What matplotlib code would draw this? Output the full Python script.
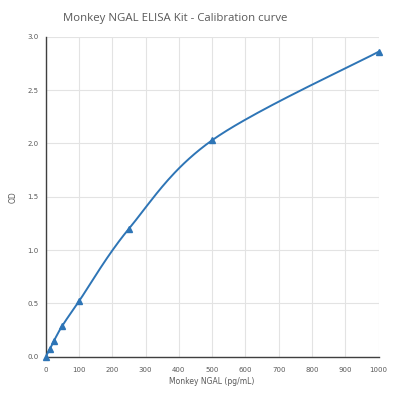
import numpy as np
import matplotlib
matplotlib.use("Agg")
import matplotlib.pyplot as plt

conc = [0, 12.5, 25, 50, 100, 250, 500, 1000]
od = [0.0, 0.07, 0.15, 0.29, 0.52, 1.20, 2.03, 2.86]
xticks = [0, 100, 200, 300, 400, 500, 600, 700, 800, 900, 1000]
yticks = [0.0, 0.5, 1.0, 1.5, 2.0, 2.5, 3.0]

def smooth(x, y, n=40):
    x = np.asarray(x, float); y = np.asarray(y, float)
    px, py = [], []
    for i in range(len(x) - 1):
        x0, y0 = (x[i-1], y[i-1]) if i > 0 else (x[i], y[i])
        x3, y3 = (x[i+2], y[i+2]) if i + 2 < len(x) else (x[i+1], y[i+1])
        x1, y1, x2, y2 = x[i], y[i], x[i+1], y[i+1]
        c1x = x1 + (x2 - x0) / 6; c1y = y1 + (y2 - y0) / 6
        c2x = x2 - (x3 - x1) / 6; c2y = y2 - (y3 - y1) / 6
        t = np.linspace(0, 1, n)
        bx = (1-t)**3*x1 + 3*(1-t)**2*t*c1x + 3*(1-t)*t**2*c2x + t**3*x2
        by = (1-t)**3*y1 + 3*(1-t)**2*t*c1y + 3*(1-t)*t**2*c2y + t**3*y2
        px.extend(bx); py.extend(by)
    return px, py

fig = plt.figure(figsize=(4, 4), dpi=100)
ax = fig.add_axes([0.114, 0.108, 0.8325, 0.8])
sx, sy = smooth(conc, od)
color = "#2E75B6"
ax.plot(sx, sy, color=color, lw=1.4, zorder=3)
ax.plot(conc, od, linestyle="none", marker="^", ms=5, color=color, zorder=4, clip_on=False)

ax.set_xlim(0, 1000)
ax.set_ylim(0, 3.0)
ax.set_xticks(xticks)
ax.set_yticks(yticks)
ax.set_xticklabels([str(v) for v in xticks])
ax.set_yticklabels([f"{v:.1f}" for v in yticks])
ax.grid(True, color="#e3e3e3", lw=0.8)
ax.set_axisbelow(True)
for s in ["top", "right"]:
    ax.spines[s].set_visible(False)
for s in ["left", "bottom"]:
    ax.spines[s].set_color("#404040")
    ax.spines[s].set_linewidth(1.0)
ax.tick_params(axis="x", length=0, labelsize=5, colors="#595959", pad=7)
ax.tick_params(axis="y", length=0, labelsize=5, colors="#595959", pad=5)
ax.set_xlabel("Monkey NGAL (pg/mL)", fontsize=5.5, color="#595959", labelpad=3)
ax.set_ylabel("OD", fontsize=5.5, color="#595959", labelpad=7)
fig.text(0.4375, 0.953, "Monkey NGAL ELISA Kit - Calibration curve", ha="center", va="center",
         fontsize=8.2, color="#595959", family="Open Sans")
fig.savefig("out.png", dpi=100)
